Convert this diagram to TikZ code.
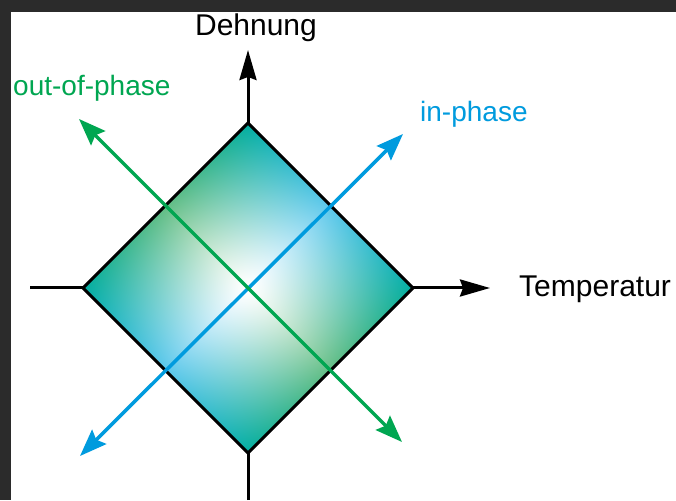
\documentclass[tikz,border=0pt]{standalone}
\usepackage{fontspec}
\setmainfont{Liberation Sans}
\usetikzlibrary{arrows.meta}
\definecolor{phasegreen}{RGB}{0,166,81}
\definecolor{phaseblue}{RGB}{0,155,222}
\definecolor{darkframe}{RGB}{43,43,43}
% white middle, blue towards NE/SW sides, green towards NW/SE sides, teal corners
\pgfdeclarefunctionalshading{diamondfill}{\pgfpoint{-165pt}{-165pt}}{\pgfpoint{165pt}{165pt}}{}{
  2 copy add 165 div dup mul 0.65 exp dup 1 gt {pop 1} if
  3 1 roll exch sub 165 div dup mul 0.65 exp dup 1 gt {pop 1} if
  2 copy mul 0.27 mul 2 index -0.65 mul add 1 index -0.62 mul add 1 add 3 1 roll
  2 copy mul 0.16 mul 2 index -0.22 mul add 1 index -0.26 mul add 1 add 3 1 roll
  2 copy mul 0.19 mul 2 index -0.08 mul add 1 index -0.48 mul add 1 add 3 1 roll
  pop pop
}
\begin{document}
\begin{tikzpicture}[x=1pt,y=1pt,font=\fontsize{30}{36}\selectfont,
  axis/.style={line width=3pt,-{Stealth[length=30pt,width=17pt,inset=3pt]}},
  phase/.style={line width=3.5pt,{Stealth[length=27pt,width=20pt,inset=4pt]}-{Stealth[length=27pt,width=20pt,inset=4pt]}},
  lbl/.style={anchor=base west,inner sep=0pt}]
\fill[darkframe] (0,0) rectangle (676,500);
\fill[white] (11,0) rectangle (676,488);
\useasboundingbox (0,0) rectangle (676,500);
% axes
\coordinate (O) at (248,212);
\coordinate (ybot) at (248,0);
\coordinate (ytop) at (248,450);
\coordinate (xleft) at (30,212);
\coordinate (xright) at (490,212);
\draw[line width=3pt] (xleft) -- (O);
\draw[axis] (O) -- (xright);
\draw[line width=3pt] (ybot) -- (O);
\draw[axis] (O) -- (ytop);
% diamond
\coordinate (dn) at (248,377);
\coordinate (de) at (413,212);
\coordinate (ds) at (248,47);
\coordinate (dw) at (83,212);
\begin{scope}
\clip (dn) -- (de) -- (ds) -- (dw) -- cycle;
\node[inner sep=0pt] (shade) at (O) {\pgfuseshading{diamondfill}};
\end{scope}
\draw[line width=3pt,line join=miter] (dn) -- (de) -- (ds) -- (dw) -- cycle;
% in-phase and out-of-phase
\coordinate (inlow) at (80,44);
\coordinate (inhigh) at (403,366);
\coordinate (outhigh) at (79,381);
\coordinate (outlow) at (402,58);
\draw[phase,phaseblue] (inlow) -- (inhigh);
\draw[phase,phasegreen] (outhigh) -- (outlow);
\node[anchor=base] (dehnung) at (256,464) {Dehnung};
\node[lbl] (temp) at (519,203) {Temperatur};
\node[lbl,text=phasegreen,font=\fontsize{28}{34}\selectfont] (oop) at (13,404) {out-of-phase};
\node[lbl,text=phaseblue,font=\fontsize{28}{34}\selectfont] (inp) at (420,378) {in-phase};
\end{tikzpicture}
\end{document}
